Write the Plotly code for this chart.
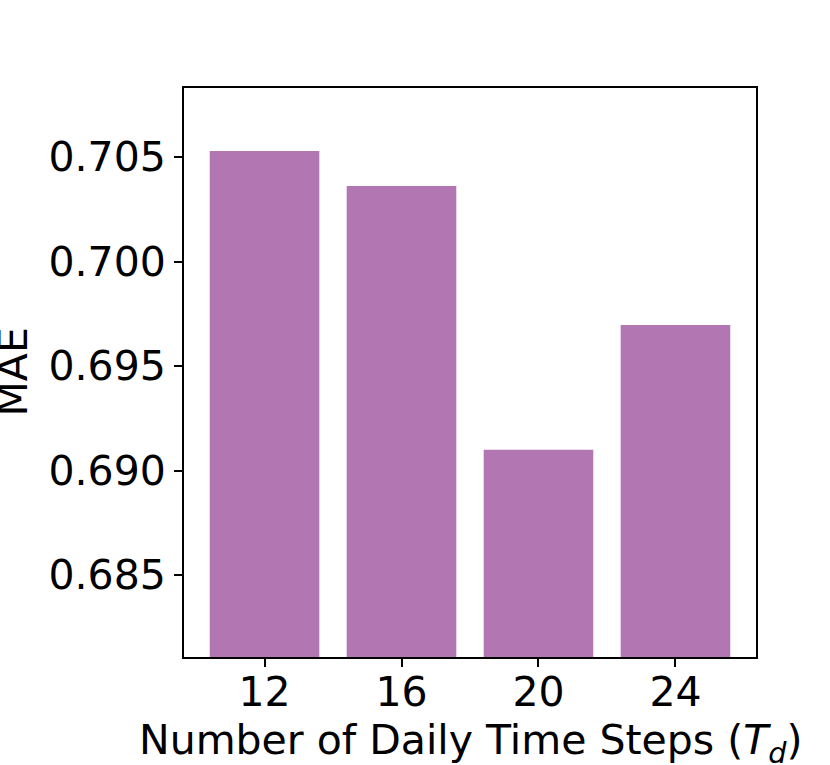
import plotly.graph_objects as go

# Daily time steps vs MAE
time_steps = ["12", "16", "20", "24"]
mae_values = [0.70529, 0.70361, 0.69100, 0.69696]
y_ticks = [0.685, 0.690, 0.695, 0.700, 0.705]

fig = go.Figure()

fig.add_trace(go.Bar(
    x=time_steps,
    y=mae_values,
    width=0.8,
    marker_color="#b276b2",
    marker_line_width=0,
))

font_family = "DejaVu Sans"
fsize = 41

fig.update_layout(
    width=830,
    height=765,
    margin=dict(l=184, r=74, t=88, b=108),
    plot_bgcolor="white",
    paper_bgcolor="white",
    showlegend=False,
    font=dict(family=font_family, size=fsize, color="black"),
    xaxis=dict(
        type="category",
        range=[-0.588, 3.588],
        showline=True,
        linecolor="black",
        linewidth=2,
        mirror=True,
        ticks="outside",
        ticklen=8,
        tickwidth=2,
        tickcolor="black",
        showgrid=False,
        ticklabelstandoff=-10,
        tickfont=dict(size=fsize),
    ),
    yaxis=dict(
        range=[0.68108, 0.7083],
        tickvals=y_ticks,
        ticktext=[f"{v:.3f}" for v in y_ticks],
        showline=True,
        linecolor="black",
        linewidth=2,
        mirror=True,
        ticks="outside",
        ticklen=8,
        tickwidth=2,
        tickcolor="black",
        showgrid=False,
        zeroline=False,
        tickfont=dict(size=fsize),
    ),
    annotations=[
        dict(
            text="Number of Daily Time Steps (<i>T</i><sub><i>d</i></sub>)",
            xref="paper", yref="paper",
            x=0.5, y=0,
            xanchor="center", yanchor="middle",
            yshift=-86,
            showarrow=False,
            font=dict(size=fsize),
        ),
        dict(
            text="MAE",
            xref="paper", yref="paper",
            x=0, y=0.5,
            xanchor="center", yanchor="middle",
            xshift=-172,
            textangle=-90,
            showarrow=False,
            font=dict(size=fsize),
        ),
    ],
)

# drop the default page margin so the figure sits at the window corner
fig.write_html(
    "out.html",
    config={"displayModeBar": False},
    post_script="document.body.style.margin='0';",
)
